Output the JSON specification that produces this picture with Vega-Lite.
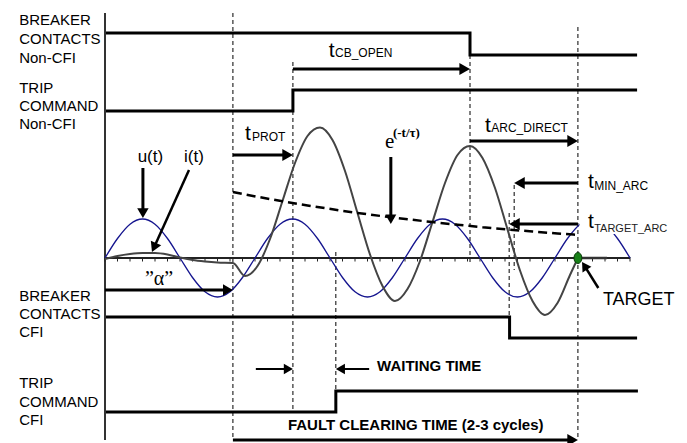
{
  "$schema": "https://vega.github.io/schema/vega-lite/v6.json",
  "width": 687,
  "height": 443,
  "padding": 0,
  "autosize": {"type": "none"},
  "background": "white",
  "config": {"view": {"stroke": null}},
  "datasets": {
    "steps": [
      {"s": "bnc", "k": 0, "x": 0, "y": 225}, {"s": "bnc", "k": 1, "x": 876, "y": 225}, {"s": "bnc", "k": 2, "x": 876, "y": 203}, {"s": "bnc", "k": 3, "x": 1277, "y": 203},
      {"s": "tnc", "k": 0, "x": 0, "y": 147}, {"s": "tnc", "k": 1, "x": 451, "y": 147}, {"s": "tnc", "k": 2, "x": 451, "y": 168}, {"s": "tnc", "k": 3, "x": 1277, "y": 168},
      {"s": "bcf", "k": 0, "x": 0, "y": -59}, {"s": "bcf", "k": 1, "x": 971, "y": -59}, {"s": "bcf", "k": 2, "x": 971, "y": -80}, {"s": "bcf", "k": 3, "x": 1277, "y": -80},
      {"s": "tcf", "k": 0, "x": 0, "y": -154}, {"s": "tcf", "k": 1, "x": 554, "y": -154}, {"s": "tcf", "k": 2, "x": 554, "y": -133}, {"s": "tcf", "k": 3, "x": 1279, "y": -133}
    ],
    "vlines": [
      {"x": 307, "y": 245, "y2": -182},
      {"x": 451, "y": 196, "y2": -155},
      {"x": 554, "y": 6, "y2": -134},
      {"x": 876, "y": 203, "y2": -7},
      {"x": 982, "y": 73, "y2": -12},
      {"x": 970, "y": 45, "y2": -59},
      {"x": 1135, "y": 231, "y2": -182}
    ],
    "ticks": [
      {"x": 0, "y": 1, "y2": -3.5}, {"x": 30, "y": 1, "y2": -3.5}, {"x": 60, "y": 1, "y2": -3.5}, {"x": 90, "y": 1, "y2": -3.5}, {"x": 120, "y": 1, "y2": -3.5}, {"x": 150, "y": 1, "y2": -3.5}, {"x": 180, "y": 1, "y2": -3.5}, {"x": 210, "y": 1, "y2": -3.5}, {"x": 240, "y": 1, "y2": -3.5}, {"x": 270, "y": 1, "y2": -3.5}, {"x": 300, "y": 1, "y2": -3.5}, {"x": 330, "y": 1, "y2": -3.5}, {"x": 360, "y": 1, "y2": -3.5}, {"x": 390, "y": 1, "y2": -3.5}, {"x": 420, "y": 1, "y2": -3.5},
      {"x": 450, "y": 1, "y2": -3.5}, {"x": 480, "y": 1, "y2": -3.5}, {"x": 510, "y": 1, "y2": -3.5}, {"x": 540, "y": 1, "y2": -3.5}, {"x": 570, "y": 1, "y2": -3.5}, {"x": 600, "y": 1, "y2": -3.5}, {"x": 630, "y": 1, "y2": -3.5}, {"x": 660, "y": 1, "y2": -3.5}, {"x": 690, "y": 1, "y2": -3.5}, {"x": 720, "y": 1, "y2": -3.5}, {"x": 750, "y": 1, "y2": -3.5}, {"x": 780, "y": 1, "y2": -3.5}, {"x": 810, "y": 1, "y2": -3.5}, {"x": 840, "y": 1, "y2": -3.5},
      {"x": 870, "y": 1, "y2": -3.5}, {"x": 900, "y": 1, "y2": -3.5}, {"x": 930, "y": 1, "y2": -3.5}, {"x": 960, "y": 1, "y2": -3.5}, {"x": 990, "y": 1, "y2": -3.5}, {"x": 1020, "y": 1, "y2": -3.5}, {"x": 1050, "y": 1, "y2": -3.5}, {"x": 1080, "y": 1, "y2": -3.5}, {"x": 1110, "y": 1, "y2": -3.5}, {"x": 1140, "y": 1, "y2": -3.5}, {"x": 1170, "y": 1, "y2": -3.5}, {"x": 1200, "y": 1, "y2": -3.5}, {"x": 1230, "y": 1, "y2": -3.5}, {"x": 1260, "y": 1, "y2": -3.5}
    ],
    "u": [
      {"x": 0, "y": 0}, {"x": 30, "y": 19.5}, {"x": 60, "y": 33.8}, {"x": 90, "y": 39}, {"x": 120, "y": 33.8}, {"x": 150, "y": 19.5},
      {"x": 180, "y": 0}, {"x": 210, "y": -19.5}, {"x": 240, "y": -33.8}, {"x": 270, "y": -39}, {"x": 300, "y": -33.8}, {"x": 330, "y": -19.5},
      {"x": 360, "y": 0}, {"x": 390, "y": 19.5}, {"x": 420, "y": 33.8}, {"x": 450, "y": 39}, {"x": 480, "y": 33.8}, {"x": 510, "y": 19.5},
      {"x": 540, "y": 0}, {"x": 570, "y": -19.5}, {"x": 600, "y": -33.8}, {"x": 630, "y": -39}, {"x": 660, "y": -33.8}, {"x": 690, "y": -19.5},
      {"x": 720, "y": 0}, {"x": 750, "y": 19.5}, {"x": 780, "y": 33.8}, {"x": 810, "y": 39}, {"x": 840, "y": 33.8}, {"x": 870, "y": 19.5},
      {"x": 900, "y": 0}, {"x": 930, "y": -19.5}, {"x": 960, "y": -33.8}, {"x": 990, "y": -39}, {"x": 1020, "y": -33.8}, {"x": 1050, "y": -19.5},
      {"x": 1080, "y": 0}, {"x": 1110, "y": 19.5}, {"x": 1140, "y": 33.8}, {"x": 1170, "y": 39}, {"x": 1200, "y": 33.8}, {"x": 1230, "y": 19.5},
      {"x": 1260, "y": 0}
    ],
    "i": [
      {"x": 0, "y": -1}, {"x": 30, "y": 2}, {"x": 60, "y": 4}, {"x": 90, "y": 5}, {"x": 120, "y": 5}, {"x": 150, "y": 3.5},
      {"x": 180, "y": 0.5}, {"x": 210, "y": -2}, {"x": 240, "y": -3.5}, {"x": 270, "y": -4.5}, {"x": 307, "y": -5},
      {"x": 336, "y": -18}, {"x": 366, "y": -8}, {"x": 396, "y": 19}, {"x": 426, "y": 57}, {"x": 456, "y": 95}, {"x": 486, "y": 122},
      {"x": 516, "y": 130.5}, {"x": 546, "y": 118}, {"x": 576, "y": 87}, {"x": 606, "y": 45}, {"x": 636, "y": 3.5}, {"x": 666, "y": -28},
      {"x": 696, "y": -43}, {"x": 726, "y": -31}, {"x": 756, "y": -3}, {"x": 786, "y": 36}, {"x": 816, "y": 75}, {"x": 846, "y": 103},
      {"x": 876, "y": 112}, {"x": 906, "y": 100}, {"x": 936, "y": 70}, {"x": 966, "y": 28.6}, {"x": 996, "y": -12.5}, {"x": 1026, "y": -43},
      {"x": 1056, "y": -57}, {"x": 1086, "y": -45}, {"x": 1116, "y": -17}, {"x": 1135, "y": 0}
    ],
    "env": [
      {"x": 307, "y": 66}, {"x": 366, "y": 61.2}, {"x": 426, "y": 56.7}, {"x": 486, "y": 52.6}, {"x": 546, "y": 48.7},
      {"x": 606, "y": 45.1}, {"x": 666, "y": 41.8}, {"x": 726, "y": 38.8}, {"x": 786, "y": 35.9}, {"x": 846, "y": 33.3},
      {"x": 906, "y": 30.8}, {"x": 966, "y": 28.6}, {"x": 1026, "y": 26.5}, {"x": 1086, "y": 24.5}, {"x": 1135, "y": 23.1}
    ]
  },
  "encoding": {
    "x": {"field": "x", "type": "quantitative", "scale": {"domain": [-252, 1396.8], "nice": false, "zero": false}, "axis": null},
    "y": {"field": "y", "type": "quantitative", "scale": {"domain": [-185, 258], "nice": false, "zero": false}, "axis": null}
  },
  "layer": [
    {"data": {"name": "steps"}, "mark": {"type": "line", "color": "black", "strokeWidth": 3, "strokeCap": "butt", "strokeJoin": "miter"}, "encoding": {"detail": {"field": "s"}, "order": {"field": "k", "type": "quantitative"}}},
    {"data": {"name": "vlines"}, "mark": {"type": "rule", "color": "black", "strokeWidth": 1, "strokeDash": [4, 3]}, "encoding": {"y2": {"field": "y2"}}},
    {"data": {"values": [{"x": 0, "y": 245, "y2": -182}]}, "mark": {"type": "rule", "color": "#333333", "strokeWidth": 2}, "encoding": {"y2": {"field": "y2"}}},
    {"data": {"values": [{"x": 0, "x2": 1260, "y": 0}]}, "mark": {"type": "rule", "color": "#222222", "strokeWidth": 1.8}, "encoding": {"x2": {"field": "x2"}}},
    {"data": {"name": "ticks"}, "mark": {"type": "rule", "color": "#222222", "strokeWidth": 1}, "encoding": {"y2": {"field": "y2"}}},
    {"data": {"name": "u"}, "mark": {"type": "line", "color": "#15158f", "strokeWidth": 1.3, "interpolate": "monotone"}, "encoding": {}},
    {"data": {"name": "i"}, "mark": {"type": "line", "color": "#444444", "strokeWidth": 2, "interpolate": "monotone"}, "encoding": {}},
    {"data": {"name": "env"}, "mark": {"type": "line", "color": "black", "strokeWidth": 2.5, "strokeDash": [9, 5], "interpolate": "monotone"}, "encoding": {}},
    {"data": {"values": [{"x": 1138.8, "x2": 1362, "y": 48, "y2": 24}]}, "mark": {"type": "rect", "color": "white"}, "encoding": {"x2": {"field": "x2"}, "y2": {"field": "y2"}}},
    {"data": {"values": [{"x": 1135, "x2": 1205, "y": 0}]}, "mark": {"type": "rule", "color": "#333333", "strokeWidth": 2.5}, "encoding": {"x2": {"field": "x2"}}},
    {"data": {"values": [
      {"x": 451, "x2": 863, "y": 189},
      {"x": 307, "x2": 438, "y": 103},
      {"x": 876, "x2": 1122, "y": 117},
      {"x": 995, "x2": 1135, "y": 75},
      {"x": 983, "x2": 1135, "y": 34},
      {"x": 0, "x2": 295, "y": -32},
      {"x": 307, "x2": 1122, "y": -182}
    ]}, "mark": {"type": "rule", "color": "black", "strokeWidth": 3}, "encoding": {"x2": {"field": "x2"}}},
    {"data": {"values": [
      {"x": 91, "y": 90, "y2": 45},
      {"x": 686, "y": 101, "y2": 39}
    ]}, "mark": {"type": "rule", "color": "black", "strokeWidth": 3}, "encoding": {"y2": {"field": "y2"}}},
    {"data": {"values": [
      {"x": 201.6, "y": 88, "x2": 117.6, "y2": 10.5},
      {"x": 1184, "y": -30, "x2": 1150.8, "y2": -7.8}
    ]}, "mark": {"type": "rule", "color": "black", "strokeWidth": 2.5}, "encoding": {"x2": {"field": "x2"}, "y2": {"field": "y2"}}},
    {"data": {"values": [
      {"x": 362, "x2": 440, "y": -111},
      {"x": 634, "x2": 565, "y": -111}
    ]}, "mark": {"type": "rule", "color": "black", "strokeWidth": 2}, "encoding": {"x2": {"field": "x2"}}},
    {"data": {"values": [{"x": 863.3, "y": 189}, {"x": 438.3, "y": 103}, {"x": 1122.3, "y": 117}, {"x": 1122.3, "y": -182}]}, "mark": {"type": "point", "shape": "triangle-right", "size": 150, "filled": true, "color": "black", "opacity": 1}, "encoding": {}},
    {"data": {"values": [{"x": 994.7, "y": 75}, {"x": 982.7, "y": 34}]}, "mark": {"type": "point", "shape": "triangle-left", "size": 150, "filled": true, "color": "black", "opacity": 1}, "encoding": {}},
    {"data": {"values": [{"x": 295.1, "y": -32}]}, "mark": {"type": "point", "shape": "triangle-right", "size": 130, "filled": true, "color": "black", "opacity": 1}, "encoding": {}},
    {"data": {"values": [{"x": 440.1, "y": -111}]}, "mark": {"type": "point", "shape": "triangle-right", "size": 110, "filled": true, "color": "black", "opacity": 1}, "encoding": {}},
    {"data": {"values": [{"x": 564.9, "y": -111}]}, "mark": {"type": "point", "shape": "triangle-left", "size": 110, "filled": true, "color": "black", "opacity": 1}, "encoding": {}},
    {"data": {"values": [{"x": 91, "y": 44.9}]}, "mark": {"type": "point", "shape": "triangle-down", "size": 130, "filled": true, "color": "black", "opacity": 1}, "encoding": {}},
    {"data": {"values": [{"x": 686, "y": 38.7}]}, "mark": {"type": "point", "shape": "triangle-down", "size": 120, "filled": true, "color": "black", "opacity": 1}, "encoding": {}},
    {"data": {"values": [{"x": 117.6, "y": 10.5}]}, "mark": {"type": "point", "shape": "triangle-up", "angle": 204.3, "size": 130, "filled": true, "color": "black", "opacity": 1}, "encoding": {}},
    {"data": {"values": [{"x": 1150.8, "y": -7.8}]}, "mark": {"type": "point", "shape": "triangle-up", "angle": 327.3, "size": 110, "filled": true, "color": "black", "opacity": 1}, "encoding": {}},
    {"data": {"values": [
      {"x": -206, "y": 233, "label": "BREAKER"},
      {"x": -206, "y": 214.5, "label": "CONTACTS"},
      {"x": -206, "y": 195.5, "label": "Non-CFI"},
      {"x": -206, "y": 165, "label": "TRIP"},
      {"x": -206, "y": 147.5, "label": "COMMAND"},
      {"x": -206, "y": 129.5, "label": "Non-CFI"},
      {"x": -206, "y": -43, "label": "BREAKER"},
      {"x": -206, "y": -61, "label": "CONTACTS"},
      {"x": -206, "y": -79, "label": "CFI"},
      {"x": -206, "y": -130, "label": "TRIP"},
      {"x": -206, "y": -149, "label": "COMMAND"},
      {"x": -206, "y": -167, "label": "CFI"}
    ]}, "mark": {"type": "text", "font": "Liberation Sans", "fontSize": 15, "align": "left", "baseline": "alphabetic", "color": "black"}, "encoding": {"text": {"field": "label"}}},
    {"data": {"values": [
      {"x": 537, "y": 201, "label": "t"},
      {"x": 336, "y": 118, "label": "t"},
      {"x": 912, "y": 126, "label": "t"},
      {"x": 1159, "y": 70, "label": "t"},
      {"x": 1159, "y": 30, "label": "t"}
    ]}, "mark": {"type": "text", "font": "Liberation Sans", "fontSize": 21, "align": "left", "baseline": "alphabetic", "color": "black"}, "encoding": {"text": {"field": "label"}}},
    {"data": {"values": [
      {"x": 552, "y": 201, "label": "CB_OPEN"},
      {"x": 353, "y": 117, "label": "PROT"},
      {"x": 927, "y": 126, "label": "ARC_DIRECT"},
      {"x": 1174, "y": 68, "label": "MIN_ARC"}
    ]}, "mark": {"type": "text", "font": "Liberation Sans", "fontSize": 12, "align": "left", "baseline": "alphabetic", "color": "black"}, "encoding": {"text": {"field": "label"}}},
    {"data": {"values": [{"x": 1174, "y": 26, "label": "TARGET_ARC"}]}, "mark": {"type": "text", "font": "Liberation Sans", "fontSize": 11, "align": "left", "baseline": "alphabetic", "color": "#222222"}, "encoding": {"text": {"field": "label"}}},
    {"data": {"values": [
      {"x": 109, "y": 96.5, "label": "u(t)"},
      {"x": 213.6, "y": 96.5, "label": "i(t)"}
    ]}, "mark": {"type": "text", "font": "Liberation Sans", "fontSize": 17, "align": "center", "baseline": "alphabetic", "color": "black"}, "encoding": {"text": {"field": "label"}}},
    {"data": {"values": [{"x": 129.6, "y": -27, "label": "”α”"}]}, "mark": {"type": "text", "font": "Liberation Serif", "fontSize": 20, "align": "center", "baseline": "alphabetic", "color": "black"}, "encoding": {"text": {"field": "label"}}},
    {"data": {"values": [{"x": 672, "y": 110, "label": "e"}]}, "mark": {"type": "text", "font": "Liberation Serif", "fontSize": 21, "align": "left", "baseline": "alphabetic", "color": "black"}, "encoding": {"text": {"field": "label"}}},
    {"data": {"values": [{"x": 691, "y": 121, "label": "(-t/τ)"}]}, "mark": {"type": "text", "font": "Liberation Serif", "fontSize": 13, "fontWeight": "bold", "align": "left", "baseline": "alphabetic", "color": "black"}, "encoding": {"text": {"field": "label"}}},
    {"data": {"values": [{"x": 1195, "y": -47, "label": "TARGET"}]}, "mark": {"type": "text", "font": "Liberation Sans", "fontSize": 18, "align": "left", "baseline": "alphabetic", "color": "black"}, "encoding": {"text": {"field": "label"}}},
    {"data": {"values": [
      {"x": 653, "y": -113, "label": "WAITING TIME"},
      {"x": 439, "y": -172, "label": "FAULT CLEARING TIME (2-3 cycles)"}
    ]}, "mark": {"type": "text", "font": "Liberation Sans", "fontSize": 15, "fontWeight": "bold", "align": "left", "baseline": "alphabetic", "color": "black"}, "encoding": {"text": {"field": "label"}}},
    {"data": {"values": [{"x": 1135, "y": 0}]}, "mark": {"type": "point", "shape": "M0,-1A0.72,1,0,1,1,0,1A0.72,1,0,1,1,0,-1Z", "size": 121, "filled": true, "fill": "#188018", "stroke": "#0a3a0a", "strokeWidth": 1, "opacity": 1}, "encoding": {}}
  ]
}
